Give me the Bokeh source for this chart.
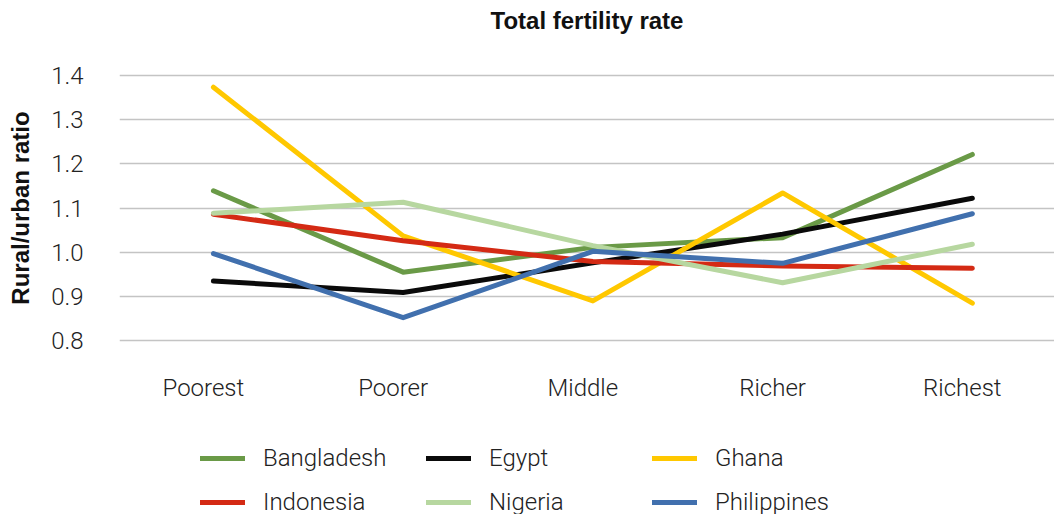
from bokeh.plotting import figure
from bokeh.layouts import column
from bokeh.models import (Range1d, FixedTicker, PrintfTickFormatter, Legend, LegendItem,
                          LinearAxis, Title)
from bokeh.embed import file_html
from bokeh.resources import INLINE

categories = ["Poorest", "Poorer", "Middle", "Richer", "Richest"]
y_ticks = [0.8, 0.9, 1.0, 1.1, 1.2, 1.3, 1.4]

bangladesh = [1.139, 0.955, 1.011, 1.033, 1.221]
egypt = [0.935, 0.909, 0.976, 1.041, 1.122]
ghana = [1.373, 1.037, 0.890, 1.134, 0.885]
indonesia = [1.086, 1.026, 0.979, 0.969, 0.964]
nigeria = [1.088, 1.113, 1.015, 0.931, 1.018]
philippines = [0.997, 0.852, 1.002, 0.975, 1.087]

series_names = ["Bangladesh", "Egypt", "Ghana", "Indonesia", "Nigeria", "Philippines"]
series_values = [bangladesh, egypt, ghana, indonesia, nigeria, philippines]
series_colors = ["#6A9A47", "#0A0A0A", "#FFC800", "#D42A14", "#B7D7A0", "#4170AE"]

LIGHT = "'Roboto Light', 'Liberation Sans', sans-serif"
BOLD = "'Liberation Sans', Arial, sans-serif"

xs = list(range(len(categories)))
X0, X1 = -0.495, 4.433
LABEL_SHIFT = 0.053  # category labels sit slightly left of the points, as in the original

p = figure(width=1054, height=420, output_backend="svg", toolbar_location=None,
           x_range=Range1d(X0, X1), y_range=Range1d(0.796, 1.404),
           x_axis_location=None,
           min_border_left=119, min_border_right=0, min_border_top=73, min_border_bottom=78)
p.outline_line_color = None
p.background_fill_color = "white"
p.border_fill_color = "white"

p.title.text = "Total fertility rate"
p.title.align = "center"
p.title.vertical_align = "bottom"
p.title.standoff = 0
p.title.text_font = BOLD
p.title.text_font_size = "24px"
p.title.text_font_style = "bold"
p.title.text_color = "#111111"
p.add_layout(Title(text=" ", text_font_size="24px", standoff=11), "above")

for name, vals, col in zip(series_names, series_values, series_colors):
    p.line(xs, vals, line_color=col, line_width=5, line_cap="round", line_join="round")

p.extra_x_ranges = {"labels": Range1d(X0 + LABEL_SHIFT, X1 + LABEL_SHIFT)}
xaxis = LinearAxis(x_range_name="labels", ticker=FixedTicker(ticks=xs),
                   major_label_overrides={i: c for i, c in enumerate(categories)})
p.add_layout(xaxis, "below")

p.yaxis.ticker = FixedTicker(ticks=y_ticks)
p.yaxis.formatter = PrintfTickFormatter(format="%.1f")
for ax in (xaxis, p.yaxis[0]):
    ax.axis_line_color = None
    ax.major_tick_line_color = None
    ax.minor_tick_line_color = None
    ax.major_label_text_font = LIGHT
    ax.major_label_text_font_size = "24px"
    ax.major_label_text_color = "#222222"
xaxis.major_label_standoff = 25
p.yaxis.major_label_standoff = 30
p.yaxis.axis_label = "Rural/urban ratio"
p.yaxis.axis_label_text_font = BOLD
p.yaxis.axis_label_text_font_style = "bold"
p.yaxis.axis_label_text_font_size = "24px"
p.yaxis.axis_label_text_color = "#111111"
p.yaxis.axis_label_standoff = 14

p.xgrid.grid_line_color = None
p.ygrid.ticker = FixedTicker(ticks=y_ticks)
p.ygrid.grid_line_color = "#C4C4C4"
p.ygrid.grid_line_width = 1.6

# legend strip below the chart (its lines lie outside its own view; only the key is shown)
lg = figure(width=1054, height=94, output_backend="svg", toolbar_location=None,
            x_range=Range1d(X0, X1), y_range=Range1d(10, 11),
            min_border_left=0, min_border_right=0, min_border_top=0, min_border_bottom=0)
lg.axis.visible = False
lg.grid.visible = False
lg.outline_line_color = None
items = []
for name, vals, col in zip(series_names, series_values, series_colors):
    r = lg.line(xs, vals, line_color=col, line_width=5, line_cap="round")
    items.append(LegendItem(label=name, renderers=[r]))
legend = Legend(items=items, orientation="horizontal", ncols=3, location=(81, -2),
                glyph_width=45, glyph_height=24, label_height=24, label_width=147,
                label_standoff=18, spacing=16, padding=0, margin=0,
                border_line_color=None, background_fill_alpha=0,
                label_text_font=LIGHT, label_text_font_size="24px",
                label_text_color="#222222")
lg.add_layout(legend, "center")

layout = column(p, lg, spacing=0)
open("out.html", "w").write(file_html(layout, INLINE))
